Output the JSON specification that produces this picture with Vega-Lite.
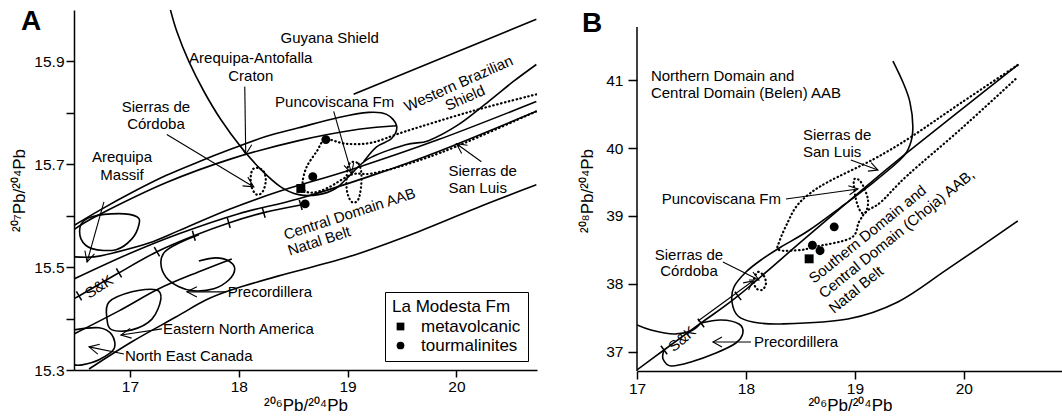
{
"$schema": "https://vega.github.io/schema/vega-lite/v6.json",
"padding": {"left": 10, "top": 8, "right": 0, "bottom": 0},
"background": "white",
"spacing": 41,
"config": {
  "view": {"stroke": null},
  "font": "Liberation Sans",
  "axis": {"domainColor": "black", "tickColor": "black", "labelColor": "black", "titleColor": "black", "domainWidth": 1.5, "tickWidth": 1.5, "grid": false, "labelFontSize": 15.5, "titleFontSize": 17, "titleFontWeight": "normal", "labelFlush": false, "labelOverlap": false}
},
"datasets": {
  "aSolid": [
    {"c":"guy","i":0,"x":19.055,"y":15.836},{"c":"guy","i":1,"x":20.734,"y":15.982},
    {"c":"big","i":0,"x":17.36,"y":16.01},{"c":"big","i":1,"x":17.431,"y":15.958},{"c":"big","i":2,"x":17.541,"y":15.9},{"c":"big","i":3,"x":17.679,"y":15.842},{"c":"big","i":4,"x":17.835,"y":15.787},{"c":"big","i":5,"x":18.018,"y":15.734},{"c":"big","i":6,"x":18.202,"y":15.69},{"c":"big","i":7,"x":18.385,"y":15.656},{"c":"big","i":8,"x":18.55,"y":15.641},{"c":"big","i":9,"x":18.734,"y":15.641},{"c":"big","i":10,"x":18.89,"y":15.653},{"c":"big","i":11,"x":19.009,"y":15.676},{"c":"big","i":12,"x":19.193,"y":15.711},{"c":"big","i":13,"x":19.532,"y":15.738},{"c":"big","i":14,"x":19.743,"y":15.746},{"c":"big","i":15,"x":20.018,"y":15.777},{"c":"big","i":16,"x":20.294,"y":15.822},{"c":"big","i":17,"x":20.523,"y":15.861},{"c":"big","i":18,"x":20.734,"y":15.894},
    {"c":"lensU","i":0,"x":16.486,"y":15.581},{"c":"lensU","i":1,"x":16.716,"y":15.61},{"c":"lensU","i":2,"x":17.018,"y":15.645},{"c":"lensU","i":3,"x":17.33,"y":15.678},{"c":"lensU","i":4,"x":17.633,"y":15.705},{"c":"lensU","i":5,"x":17.936,"y":15.73},{"c":"lensU","i":6,"x":18.248,"y":15.754},{"c":"lensU","i":7,"x":18.55,"y":15.771},{"c":"lensU","i":8,"x":18.917,"y":15.791},{"c":"lensU","i":9,"x":19.193,"y":15.801},{"c":"lensU","i":10,"x":19.358,"y":15.797},{"c":"lensU","i":11,"x":19.45,"y":15.775},{"c":"lensU","i":12,"x":19.404,"y":15.75},{"c":"lensU","i":13,"x":19.266,"y":15.734},{"c":"lensU","i":14,"x":19.147,"y":15.705},
    {"c":"lensL","i":0,"x":16.486,"y":15.573},{"c":"lensL","i":1,"x":16.716,"y":15.602},{"c":"lensL","i":2,"x":17.33,"y":15.664},{"c":"lensL","i":3,"x":17.936,"y":15.711},{"c":"lensL","i":4,"x":18.55,"y":15.746},{"c":"lensL","i":5,"x":19.101,"y":15.768},{"c":"lensL","i":6,"x":19.45,"y":15.775},
    {"c":"L1","i":0,"x":16.486,"y":15.52},{"c":"L1","i":1,"x":16.67,"y":15.52},{"c":"L1","i":2,"x":16.853,"y":15.528},{"c":"L1","i":3,"x":17.174,"y":15.547},{"c":"L1","i":4,"x":17.45,"y":15.571},{"c":"L1","i":5,"x":17.908,"y":15.612},{"c":"L1","i":6,"x":18.367,"y":15.647},{"c":"L1","i":7,"x":19.037,"y":15.69},{"c":"L1","i":8,"x":19.835,"y":15.748},{"c":"L1","i":9,"x":20.734,"y":15.822},
    {"c":"L2","i":0,"x":16.486,"y":15.477},{"c":"L2","i":1,"x":16.991,"y":15.526},{"c":"L2","i":2,"x":17.45,"y":15.565},{"c":"L2","i":3,"x":18.0,"y":15.604},{"c":"L2","i":4,"x":18.55,"y":15.633},{"c":"L2","i":5,"x":19.193,"y":15.676},{"c":"L2","i":6,"x":19.835,"y":15.725},{"c":"L2","i":7,"x":20.734,"y":15.803},
    {"c":"sk","i":0,"x":16.486,"y":15.44},{"c":"sk","i":1,"x":16.532,"y":15.444},{"c":"sk","i":2,"x":16.899,"y":15.489},{"c":"sk","i":3,"x":17.248,"y":15.53},{"c":"sk","i":4,"x":17.587,"y":15.561},{"c":"sk","i":5,"x":17.908,"y":15.586},{"c":"sk","i":6,"x":18.229,"y":15.606},{"c":"sk","i":7,"x":18.569,"y":15.621},
    {"c":"prec","i":0,"x":17.633,"y":15.563},{"c":"prec","i":1,"x":17.45,"y":15.547},{"c":"prec","i":2,"x":17.321,"y":15.53},{"c":"prec","i":3,"x":17.284,"y":15.508},{"c":"prec","i":4,"x":17.33,"y":15.481},{"c":"prec","i":5,"x":17.45,"y":15.462},{"c":"prec","i":6,"x":17.587,"y":15.454},{"c":"prec","i":7,"x":17.771,"y":15.458},{"c":"prec","i":8,"x":17.908,"y":15.475},{"c":"prec","i":9,"x":17.963,"y":15.497},{"c":"prec","i":10,"x":17.908,"y":15.512},{"c":"prec","i":11,"x":17.789,"y":15.518},{"c":"prec","i":12,"x":17.633,"y":15.512},
    {"c":"a12","i":0,"x":16.486,"y":15.37},{"c":"a12","i":1,"x":16.899,"y":15.415},{"c":"a12","i":2,"x":17.266,"y":15.458},{"c":"a12","i":3,"x":17.633,"y":15.491},{"c":"a12","i":4,"x":17.936,"y":15.516},
    {"c":"a11","i":0,"x":16.624,"y":15.302},{"c":"a11","i":1,"x":17.018,"y":15.355},{"c":"a11","i":2,"x":17.422,"y":15.403},{"c":"a11","i":3,"x":17.697,"y":15.436},{"c":"a11","i":4,"x":17.936,"y":15.456},{"c":"a11","i":5,"x":18.367,"y":15.483},{"c":"a11","i":6,"x":19.009,"y":15.52},{"c":"a11","i":7,"x":19.651,"y":15.569},{"c":"a11","i":8,"x":20.229,"y":15.619},{"c":"a11","i":9,"x":20.734,"y":15.66},
    {"c":"nec","i":0,"x":16.486,"y":15.378},{"c":"nec","i":1,"x":16.716,"y":15.382},{"c":"nec","i":2,"x":16.835,"y":15.368},{"c":"nec","i":3,"x":16.853,"y":15.341},{"c":"nec","i":4,"x":16.716,"y":15.32},{"c":"nec","i":5,"x":16.56,"y":15.31},{"c":"nec","i":6,"x":16.486,"y":15.31}
  ],
  "aClosed": [
    {"c":"areq","i":0,"x":16.55,"y":15.583},{"c":"areq","i":1,"x":16.651,"y":15.598},{"c":"areq","i":2,"x":16.899,"y":15.604},{"c":"areq","i":3,"x":17.064,"y":15.598},{"c":"areq","i":4,"x":17.083,"y":15.583},{"c":"areq","i":5,"x":17.018,"y":15.555},{"c":"areq","i":6,"x":16.872,"y":15.534},{"c":"areq","i":7,"x":16.651,"y":15.536},{"c":"areq","i":8,"x":16.55,"y":15.555},
    {"c":"ena","i":0,"x":16.807,"y":15.432},{"c":"ena","i":1,"x":17.018,"y":15.452},{"c":"ena","i":2,"x":17.239,"y":15.456},{"c":"ena","i":3,"x":17.284,"y":15.438},{"c":"ena","i":4,"x":17.202,"y":15.399},{"c":"ena","i":5,"x":17.018,"y":15.378},{"c":"ena","i":6,"x":16.835,"y":15.378},{"c":"ena","i":7,"x":16.789,"y":15.399}
  ],
  "aDot": [
    {"c":"sl","i":0,"x":20.734,"y":15.836},{"c":"sl","i":1,"x":20.138,"y":15.803},{"c":"sl","i":2,"x":19.532,"y":15.764},{"c":"sl","i":3,"x":19.22,"y":15.742},{"c":"sl","i":4,"x":18.982,"y":15.74},{"c":"sl","i":5,"x":18.798,"y":15.748},{"c":"sl","i":6,"x":18.716,"y":15.725},{"c":"sl","i":7,"x":18.624,"y":15.695},{"c":"sl","i":8,"x":18.587,"y":15.666},{"c":"sl","i":9,"x":18.606,"y":15.649},{"c":"sl","i":10,"x":18.688,"y":15.645},{"c":"sl","i":11,"x":18.826,"y":15.655},{"c":"sl","i":12,"x":19.037,"y":15.68},{"c":"sl","i":13,"x":19.22,"y":15.682},{"c":"sl","i":14,"x":19.532,"y":15.699},{"c":"sl","i":15,"x":19.991,"y":15.734},{"c":"sl","i":16,"x":20.734,"y":15.803}
  ],
  "aDotClosed": [
    {"c":"cord","i":0,"x":18.174,"y":15.693},{"c":"cord","i":1,"x":18.229,"y":15.686},{"c":"cord","i":2,"x":18.248,"y":15.668},{"c":"cord","i":3,"x":18.22,"y":15.647},{"c":"cord","i":4,"x":18.165,"y":15.641},{"c":"cord","i":5,"x":18.119,"y":15.655},{"c":"cord","i":6,"x":18.11,"y":15.676},{"c":"cord","i":7,"x":18.128,"y":15.69},
    {"c":"punc","i":0,"x":19.009,"y":15.699},{"c":"punc","i":1,"x":19.101,"y":15.701},{"c":"punc","i":2,"x":19.128,"y":15.672},{"c":"punc","i":3,"x":19.101,"y":15.633},{"c":"punc","i":4,"x":19.037,"y":15.627},{"c":"punc","i":5,"x":18.991,"y":15.653}
  ],
  "aArrow": [
    {"c":"aac","i":0,"x":18.055,"y":15.851},{"c":"aac","i":1,"x":18.064,"y":15.719},
    {"c":"aacH","i":0,"x":18.009,"y":15.738},{"c":"aacH","i":1,"x":18.064,"y":15.719},{"c":"aacH","i":2,"x":18.119,"y":15.738},
    {"c":"cor","i":0,"x":17.339,"y":15.758},{"c":"cor","i":1,"x":18.138,"y":15.656},
    {"c":"corH","i":0,"x":18.083,"y":15.675},{"c":"corH","i":1,"x":18.138,"y":15.656},{"c":"corH","i":2,"x":18.035,"y":15.658},
    {"c":"pun","i":0,"x":18.872,"y":15.803},{"c":"pun","i":1,"x":19.037,"y":15.682},
    {"c":"punH","i":0,"x":18.967,"y":15.698},{"c":"punH","i":1,"x":19.037,"y":15.682},{"c":"punH","i":2,"x":19.055,"y":15.703},
    {"c":"sl","i":0,"x":20.229,"y":15.705},{"c":"sl","i":1,"x":20.0,"y":15.74},
    {"c":"slH","i":0,"x":20.101,"y":15.737},{"c":"slH","i":1,"x":20.0,"y":15.74},{"c":"slH","i":2,"x":20.048,"y":15.721},
    {"c":"am","i":0,"x":16.761,"y":15.627},{"c":"am","i":1,"x":16.606,"y":15.51},
    {"c":"amH","i":0,"x":16.586,"y":15.532},{"c":"amH","i":1,"x":16.606,"y":15.51},{"c":"amH","i":2,"x":16.674,"y":15.526},
    {"c":"pr","i":0,"x":17.881,"y":15.452},{"c":"pr","i":1,"x":17.523,"y":15.452},
    {"c":"prH","i":0,"x":17.615,"y":15.462},{"c":"prH","i":1,"x":17.523,"y":15.452},{"c":"prH","i":2,"x":17.615,"y":15.442},
    {"c":"ena","i":0,"x":17.294,"y":15.38},{"c":"ena","i":1,"x":16.917,"y":15.368},
    {"c":"enaH","i":0,"x":17.015,"y":15.362},{"c":"enaH","i":1,"x":16.917,"y":15.368},{"c":"enaH","i":2,"x":17.002,"y":15.381},
    {"c":"nec","i":0,"x":16.945,"y":15.331},{"c":"nec","i":1,"x":16.624,"y":15.345},
    {"c":"necH","i":0,"x":16.723,"y":15.35},{"c":"necH","i":1,"x":16.624,"y":15.345},{"c":"necH","i":2,"x":16.705,"y":15.331}
  ],
  "aTick1": [{"x":16.532,"y":15.444},{"x":16.899,"y":15.489},{"x":17.248,"y":15.53}],
  "aTick2": [{"x":17.587,"y":15.561},{"x":17.908,"y":15.586},{"x":18.229,"y":15.606},{"x":18.569,"y":15.621}],
  "aPts": [
    {"type":"tourmalinites","x":18.8,"y":15.748},{"type":"tourmalinites","x":18.68,"y":15.676},{"type":"tourmalinites","x":18.61,"y":15.623},{"type":"metavolcanic","x":18.57,"y":15.653}
  ],
  "aTextC": [
    {"t":"Guyana Shield","x":18.835,"y":15.945},{"t":"Arequipa-Antofalla","x":18.11,"y":15.906},{"t":"Craton","x":18.11,"y":15.871},
    {"t":"Sierras de","x":17.239,"y":15.812},{"t":"Córdoba","x":17.239,"y":15.779},{"t":"Puncoviscana Fm","x":18.881,"y":15.822},
    {"t":"Arequipa","x":16.927,"y":15.715},{"t":"Massif","x":16.927,"y":15.68}
  ],
  "aTextL": [
    {"t":"Sierras de","x":19.927,"y":15.686},{"t":"San Luis","x":19.927,"y":15.653},{"t":"Precordillera","x":17.899,"y":15.452},
    {"t":"Eastern North America","x":17.303,"y":15.38},{"t":"North East Canada","x":16.954,"y":15.327}
  ],
  "aTextWB": [{"t":"Western Brazilian","x":20.018,"y":15.857},{"t":"Shield","x":20.078,"y":15.829}],
  "aTextCD": [{"t":"Central Domain AAB","x":18.431,"y":15.553},{"t":"Natal Belt","x":18.468,"y":15.522}],
  "aTextSK": [{"t":"S&K","x":16.716,"y":15.462}],
  "aTitle": [{"t":"A","x":16.092,"y":15.976}],
  "bAxis": [{"x":17,"y":36.72,"y2":41.78}],
  "bSolid": [
    {"c":"north","i":0,"x":19.349,"y":41.279},{"c":"north","i":1,"x":19.44,"y":40.971},{"c":"north","i":2,"x":19.505,"y":40.676},{"c":"north","i":3,"x":19.532,"y":40.309},{"c":"north","i":4,"x":19.505,"y":40.044},{"c":"north","i":5,"x":19.422,"y":39.838},{"c":"north","i":6,"x":19.174,"y":39.5},{"c":"north","i":7,"x":18.872,"y":39.132},{"c":"north","i":8,"x":18.569,"y":38.779},{"c":"north","i":9,"x":18.321,"y":38.544},{"c":"north","i":10,"x":18.138,"y":38.353},{"c":"north","i":11,"x":18.0,"y":38.176},{"c":"north","i":12,"x":17.89,"y":37.956},{"c":"north","i":13,"x":17.872,"y":37.735},{"c":"north","i":14,"x":17.927,"y":37.529},{"c":"north","i":15,"x":18.064,"y":37.441},{"c":"north","i":16,"x":18.321,"y":37.412},{"c":"north","i":17,"x":18.936,"y":37.485},{"c":"north","i":18,"x":19.394,"y":37.735},{"c":"north","i":19,"x":19.853,"y":38.221},{"c":"north","i":20,"x":20.495,"y":38.926},
    {"c":"sk","i":0,"x":17.0,"y":36.735},{"c":"sk","i":1,"x":17.248,"y":37.029},{"c":"sk","i":2,"x":17.587,"y":37.426},{"c":"sk","i":3,"x":17.927,"y":37.824},{"c":"sk","i":4,"x":18.505,"y":38.618},{"c":"sk","i":5,"x":18.936,"y":39.206},{"c":"sk","i":6,"x":19.45,"y":39.897},{"c":"sk","i":7,"x":20.495,"y":41.221},
    {"c":"b3","i":0,"x":17.0,"y":37.397},{"c":"b3","i":1,"x":17.128,"y":37.324},{"c":"b3","i":2,"x":17.339,"y":37.265},{"c":"b3","i":3,"x":17.495,"y":37.309},{"c":"b3","i":4,"x":17.578,"y":37.412},
    {"c":"prec","i":0,"x":17.587,"y":37.426},{"c":"prec","i":1,"x":17.771,"y":37.471},{"c":"prec","i":2,"x":17.936,"y":37.412},{"c":"prec","i":3,"x":17.972,"y":37.279},{"c":"prec","i":4,"x":17.908,"y":37.132},{"c":"prec","i":5,"x":17.725,"y":36.985},{"c":"prec","i":6,"x":17.495,"y":36.853},{"c":"prec","i":7,"x":17.312,"y":36.794},{"c":"prec","i":8,"x":17.239,"y":36.897},{"c":"prec","i":9,"x":17.248,"y":37.029}
  ],
  "bArrow": [
    {"c":"skc","i":0,"x":17.56,"y":37.456},{"c":"skc","i":1,"x":18.064,"y":38.044},
    {"c":"skcH","i":0,"x":18.024,"y":37.91},{"c":"skcH","i":1,"x":18.064,"y":38.044},{"c":"skcH","i":2,"x":17.974,"y":38.016},
    {"c":"cor","i":0,"x":17.789,"y":38.324},{"c":"cor","i":1,"x":18.119,"y":38.059},
    {"c":"corH","i":0,"x":18.028,"y":38.059},{"c":"corH","i":1,"x":18.119,"y":38.059},{"c":"corH","i":2,"x":18.064,"y":38.176},
    {"c":"pr","i":0,"x":18.046,"y":37.147},{"c":"pr","i":1,"x":17.697,"y":37.147},
    {"c":"prH","i":0,"x":17.78,"y":37.221},{"c":"prH","i":1,"x":17.697,"y":37.147},{"c":"prH","i":2,"x":17.78,"y":37.074},
    {"c":"pun","i":0,"x":18.367,"y":39.25},{"c":"pun","i":1,"x":19.028,"y":39.397},
    {"c":"punH","i":0,"x":18.951,"y":39.313},{"c":"punH","i":1,"x":19.028,"y":39.397},{"c":"punH","i":2,"x":18.94,"y":39.446},
    {"c":"sl","i":0,"x":18.963,"y":39.824},{"c":"sl","i":1,"x":19.211,"y":39.676},
    {"c":"slH","i":0,"x":19.119,"y":39.66},{"c":"slH","i":1,"x":19.211,"y":39.676},{"c":"slH","i":2,"x":19.149,"y":39.784}
  ],
  "bDot": [
    {"c":"sl","i":0,"x":20.495,"y":41.221},{"c":"sl","i":1,"x":19.972,"y":40.662},{"c":"sl","i":2,"x":19.514,"y":40.162},{"c":"sl","i":3,"x":19.174,"y":39.838},{"c":"sl","i":4,"x":18.752,"y":39.5},{"c":"sl","i":5,"x":18.569,"y":39.309},{"c":"sl","i":6,"x":18.459,"y":39.132},{"c":"sl","i":7,"x":18.385,"y":38.912},{"c":"sl","i":8,"x":18.312,"y":38.647},{"c":"sl","i":9,"x":18.303,"y":38.5},{"c":"sl","i":10,"x":18.505,"y":38.5},{"c":"sl","i":11,"x":18.624,"y":38.544},{"c":"sl","i":12,"x":18.963,"y":38.676},{"c":"sl","i":13,"x":19.037,"y":38.912},{"c":"sl","i":14,"x":19.11,"y":39.074},{"c":"sl","i":15,"x":19.239,"y":39.206},{"c":"sl","i":16,"x":19.486,"y":39.603},{"c":"sl","i":17,"x":19.972,"y":40.279},{"c":"sl","i":18,"x":20.495,"y":41.044}
  ],
  "bDotClosed": [
    {"c":"cord","i":0,"x":18.11,"y":38.176},{"c":"cord","i":1,"x":18.165,"y":38.118},{"c":"cord","i":2,"x":18.183,"y":38.0},{"c":"cord","i":3,"x":18.147,"y":37.912},{"c":"cord","i":4,"x":18.092,"y":37.941},{"c":"cord","i":5,"x":18.073,"y":38.059},
    {"c":"punc","i":0,"x":18.991,"y":39.529},{"c":"punc","i":1,"x":19.055,"y":39.5},{"c":"punc","i":2,"x":19.119,"y":39.25},{"c":"punc","i":3,"x":19.101,"y":39.059},{"c":"punc","i":4,"x":19.055,"y":39.059},{"c":"punc","i":5,"x":19.009,"y":39.25}
  ],
  "bTick": [{"x":17.248,"y":37.029},{"x":17.587,"y":37.426},{"x":17.927,"y":37.824}],
  "bPts": [
    {"type":"tourmalinites","x":18.81,"y":38.84},{"type":"tourmalinites","x":18.61,"y":38.57},{"type":"tourmalinites","x":18.68,"y":38.49},{"type":"metavolcanic","x":18.58,"y":38.37}
  ],
  "bTextL": [
    {"t":"Northern Domain and","x":17.128,"y":41.059},{"t":"Central Domain (Belen) AAB","x":17.128,"y":40.809},
    {"t":"Sierras de","x":18.523,"y":40.191},{"t":"San Luis","x":18.523,"y":39.941},{"t":"Precordillera","x":18.073,"y":37.147}
  ],
  "bTextR": [{"t":"Puncoviscana Fm","x":18.321,"y":39.25}],
  "bTextC": [{"t":"Sierras de","x":17.477,"y":38.426},{"t":"Córdoba","x":17.477,"y":38.191}],
  "bTextSD": [{"t":"Southern Domain and","x":18.624,"y":38.0},{"t":"Central Domain (Choja) AAB,","x":18.716,"y":37.779},{"t":"Natal Belt","x":18.807,"y":37.559}],
  "bTextSK": [{"t":"S&K","x":17.413,"y":37.191}],
  "bTitle": [{"t":"B","x":16.587,"y":41.824}]
},
"resolve": {"scale": {"shape": "independent"}, "legend": {"shape": "independent"}},
"hconcat": [
  {
    "width": 463, "height": 360,
    "encoding": {
      "x": {"field": "x", "type": "quantitative", "scale": {"domain": [16.486, 20.74], "nice": false, "zero": false},
            "axis": {"title": "²⁰⁶Pb/²⁰⁴Pb", "values": [17, 18, 19, 20], "tickSize": 7, "labelPadding": 2, "titlePadding": 3}},
      "y": {"field": "y", "type": "quantitative", "scale": {"domain": [15.3, 16.0], "nice": false, "zero": false},
            "axis": {"title": "²⁰⁷Pb/²⁰⁴Pb", "values": [15.3, 15.4, 15.5, 15.6, 15.7, 15.8, 15.9], "format": ".1f", "labelExpr": "indexof(['15.3','15.5','15.7','15.9'], datum.label) >= 0 ? datum.label : ''", "tickSize": 8, "labelPadding": 2, "titlePadding": 5}}
    },
    "layer": [
      {"data": {"name": "aSolid"}, "mark": {"type": "line", "interpolate": "cardinal", "clip": true, "strokeWidth": 1.6, "color": "black"},
       "encoding": {"detail": {"field": "c"}, "order": {"field": "i", "type": "quantitative"}}},
      {"data": {"name": "aClosed"}, "mark": {"type": "line", "interpolate": "cardinal-closed", "clip": true, "strokeWidth": 1.6, "color": "black"},
       "encoding": {"detail": {"field": "c"}, "order": {"field": "i", "type": "quantitative"}}},
      {"data": {"name": "aDot"}, "mark": {"type": "line", "interpolate": "cardinal", "clip": true, "strokeWidth": 2.2, "strokeDash": [0.5, 3.5], "strokeCap": "round", "color": "black"},
       "encoding": {"detail": {"field": "c"}, "order": {"field": "i", "type": "quantitative"}}},
      {"data": {"name": "aDotClosed"}, "mark": {"type": "line", "interpolate": "cardinal-closed", "clip": true, "strokeWidth": 2.2, "strokeDash": [0.5, 3.5], "strokeCap": "round", "color": "black"},
       "encoding": {"detail": {"field": "c"}, "order": {"field": "i", "type": "quantitative"}}},
      {"data": {"name": "aArrow"}, "mark": {"type": "line", "clip": true, "strokeWidth": 1.1, "color": "black"},
       "encoding": {"detail": {"field": "c"}, "order": {"field": "i", "type": "quantitative"}}},
      {"data": {"name": "aTick1"}, "mark": {"type": "point", "shape": "M0,-1L0,1", "filled": false, "color": "black", "strokeWidth": 1.5, "size": 110, "angle": 330, "opacity": 1}},
      {"data": {"name": "aTick2"}, "mark": {"type": "point", "shape": "M0,-1L0,1", "filled": false, "color": "black", "strokeWidth": 1.5, "size": 110, "angle": 344, "opacity": 1}},
      {"data": {"name": "aPts"}, "mark": {"type": "point", "filled": true, "color": "black", "size": 80, "opacity": 1},
       "encoding": {"shape": {"field": "type", "type": "nominal", "scale": {"domain": ["metavolcanic", "tourmalinites"], "range": ["square", "circle"]},
         "legend": {"title": "La Modesta Fm", "orient": "bottom-right", "offset": 9, "strokeColor": "black", "padding": 7, "titleFontSize": 17, "titleFontWeight": "normal", "titleColor": "black", "labelFontSize": 17, "labelColor": "black", "symbolSize": 60, "symbolFillColor": "black", "symbolStrokeColor": "black", "rowPadding": 1, "labelOffset": 12, "titlePadding": 2}}}},
      {"data": {"name": "aTextC"}, "mark": {"type": "text", "fontSize": 15, "align": "center", "baseline": "middle", "color": "black"}, "encoding": {"text": {"field": "t"}}},
      {"data": {"name": "aTextL"}, "mark": {"type": "text", "fontSize": 15, "align": "left", "baseline": "middle", "color": "black"}, "encoding": {"text": {"field": "t"}}},
      {"data": {"name": "aTextWB"}, "mark": {"type": "text", "fontSize": 15, "align": "center", "baseline": "middle", "angle": 336, "color": "black"}, "encoding": {"text": {"field": "t"}}},
      {"data": {"name": "aTextCD"}, "mark": {"type": "text", "fontSize": 15, "align": "left", "baseline": "alphabetic", "angle": 342, "color": "black"}, "encoding": {"text": {"field": "t"}}},
      {"data": {"name": "aTextSK"}, "mark": {"type": "text", "fontSize": 15, "align": "center", "baseline": "middle", "angle": 327, "color": "black"}, "encoding": {"text": {"field": "t"}}},
      {"data": {"name": "aTitle"}, "mark": {"type": "text", "fontSize": 28, "fontWeight": "bold", "align": "center", "baseline": "middle", "color": "black"}, "encoding": {"text": {"field": "t"}}}
    ]
  },
  {
    "width": 426, "height": 361,
    "encoding": {
      "x": {"field": "x", "type": "quantitative", "scale": {"domain": [17, 20.91], "nice": false, "zero": false},
            "axis": {"title": "²⁰⁶Pb/²⁰⁴Pb", "values": [17, 18, 19, 20], "tickSize": 8, "labelPadding": 2, "titlePadding": 1}},
      "y": {"field": "y", "type": "quantitative", "scale": {"domain": [36.72, 42.03], "nice": false, "zero": false},
            "axis": {"title": "²⁰⁸Pb/²⁰⁴Pb", "values": [37, 38, 39, 40, 41], "tickSize": 9, "labelPadding": 5, "titlePadding": 9, "domain": false}}
    },
    "layer": [
      {"data": {"name": "bAxis"}, "mark": {"type": "rule", "strokeWidth": 1.5, "color": "black"}, "encoding": {"y2": {"field": "y2"}}},
      {"data": {"name": "bSolid"}, "mark": {"type": "line", "interpolate": "cardinal", "clip": true, "strokeWidth": 1.6, "color": "black"},
       "encoding": {"detail": {"field": "c"}, "order": {"field": "i", "type": "quantitative"}}},
      {"data": {"name": "bDot"}, "mark": {"type": "line", "interpolate": "cardinal", "clip": true, "strokeWidth": 2.2, "strokeDash": [0.5, 3.5], "strokeCap": "round", "color": "black"},
       "encoding": {"detail": {"field": "c"}, "order": {"field": "i", "type": "quantitative"}}},
      {"data": {"name": "bDotClosed"}, "mark": {"type": "line", "interpolate": "cardinal-closed", "clip": true, "strokeWidth": 2.2, "strokeDash": [0.5, 3.5], "strokeCap": "round", "color": "black"},
       "encoding": {"detail": {"field": "c"}, "order": {"field": "i", "type": "quantitative"}}},
      {"data": {"name": "bArrow"}, "mark": {"type": "line", "clip": true, "strokeWidth": 1.1, "color": "black"},
       "encoding": {"detail": {"field": "c"}, "order": {"field": "i", "type": "quantitative"}}},
      {"data": {"name": "bTick"}, "mark": {"type": "point", "shape": "M0,-1L0,1", "filled": false, "color": "black", "strokeWidth": 1.5, "size": 110, "angle": 323, "opacity": 1}},
      {"data": {"name": "bPts"}, "mark": {"type": "point", "filled": true, "color": "black", "size": 80, "opacity": 1},
       "encoding": {"shape": {"field": "type", "type": "nominal", "scale": {"domain": ["metavolcanic", "tourmalinites"], "range": ["square", "circle"]}, "legend": null}}},
      {"data": {"name": "bTextL"}, "mark": {"type": "text", "fontSize": 15, "align": "left", "baseline": "middle", "color": "black"}, "encoding": {"text": {"field": "t"}}},
      {"data": {"name": "bTextR"}, "mark": {"type": "text", "fontSize": 15, "align": "right", "baseline": "middle", "color": "black"}, "encoding": {"text": {"field": "t"}}},
      {"data": {"name": "bTextC"}, "mark": {"type": "text", "fontSize": 15, "align": "center", "baseline": "middle", "color": "black"}, "encoding": {"text": {"field": "t"}}},
      {"data": {"name": "bTextSD"}, "mark": {"type": "text", "fontSize": 15, "align": "left", "baseline": "alphabetic", "angle": 321, "color": "black"}, "encoding": {"text": {"field": "t"}}},
      {"data": {"name": "bTextSK"}, "mark": {"type": "text", "fontSize": 15, "align": "center", "baseline": "middle", "angle": 320, "color": "black"}, "encoding": {"text": {"field": "t"}}},
      {"data": {"name": "bTitle"}, "mark": {"type": "text", "fontSize": 28, "fontWeight": "bold", "align": "center", "baseline": "middle", "color": "black"}, "encoding": {"text": {"field": "t"}}}
    ]
  }
]
}
